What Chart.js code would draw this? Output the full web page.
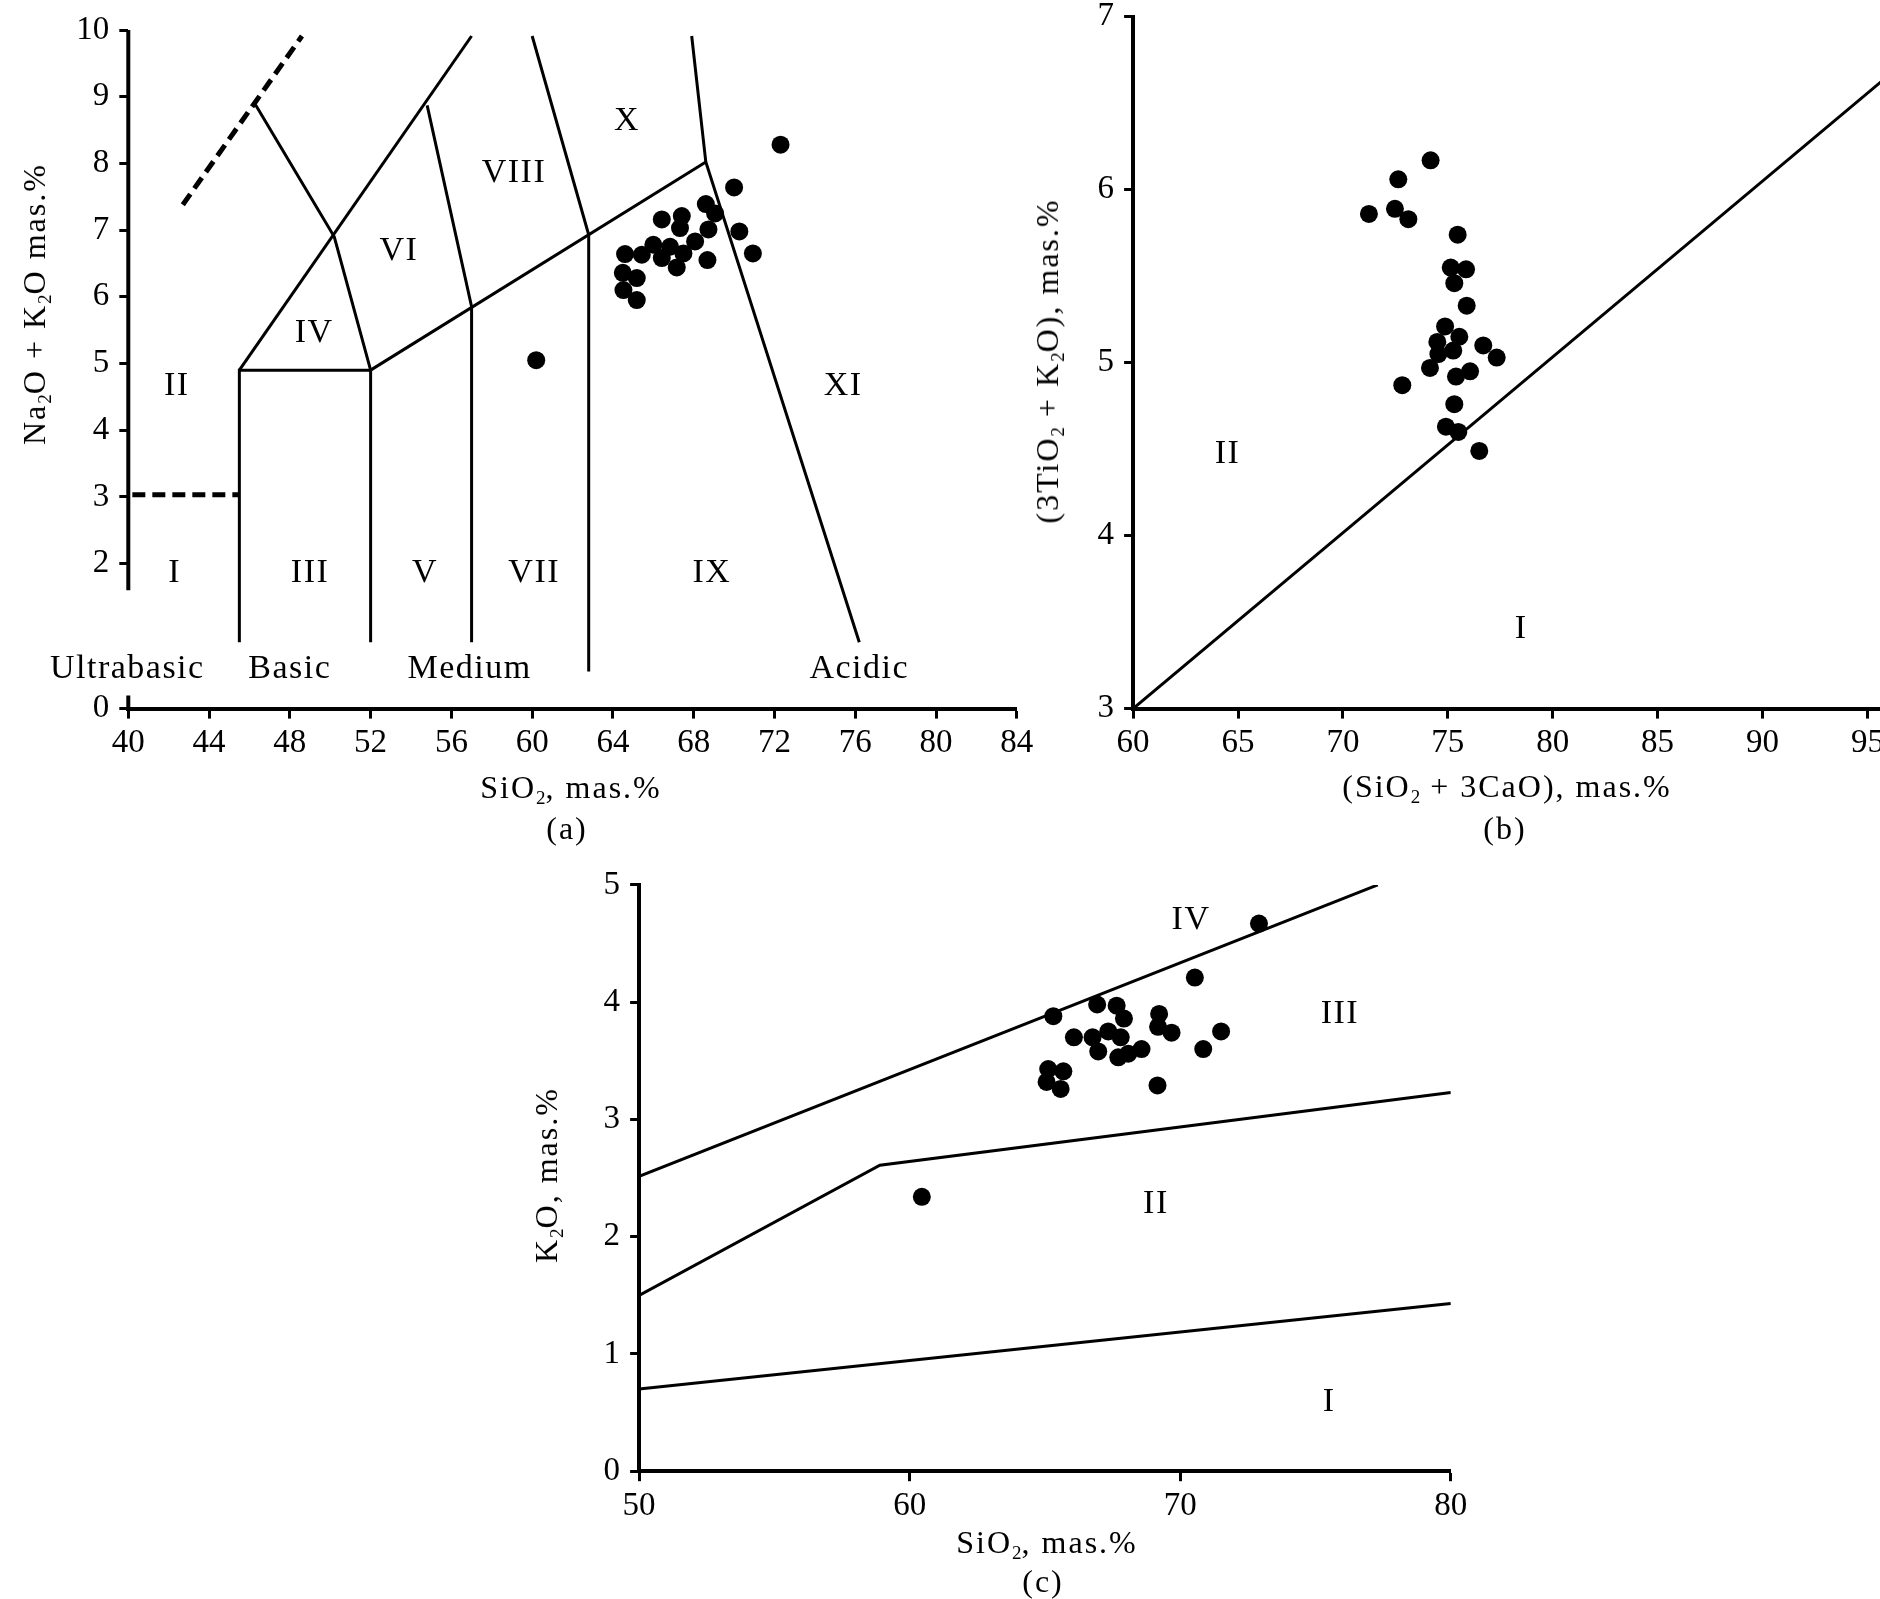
<!DOCTYPE html>
<html>
<head>
<meta charset="utf-8">
<script src="https://cdn.jsdelivr.net/npm/chart.js@4.4.1/dist/chart.umd.min.js"></script>
<style>
  body { margin: 0; width: 1880px; height: 1599px; overflow: hidden; background: #fff; position: relative;
         font-family: "Liberation Serif", "Times New Roman", serif; }
  canvas { position: absolute; }
  .lbl { position: absolute; font-size: 32px; letter-spacing: 2px; color: #000; white-space: nowrap;
         transform: translate(-50%, -50%); line-height: 1; }
  .lbl sub { font-size: 19px; vertical-align: -6px; line-height: 0; letter-spacing: 0; }
  .rot { transform: translate(-50%, -50%) rotate(-90deg); }
</style>
</head>
<body>
<canvas id="chartA" width="1060" height="800" style="left:0px;top:0px"></canvas>
<canvas id="chartB" width="1000" height="820" style="left:1000px;top:-20px"></canvas>
<canvas id="chartC" width="1000" height="740" style="left:500px;top:840px"></canvas>

<div class="lbl rot" style="left:34px;top:304px">Na<sub>2</sub>O + K<sub>2</sub>O mas.%</div>
<div class="lbl" style="left:571px;top:787px">SiO<sub>2</sub>, mas.%</div>
<div class="lbl" style="left:567px;top:828px">(a)</div>

<div class="lbl rot" style="left:1047px;top:361px">(3TiO<sub>2</sub> + K<sub>2</sub>O), mas.%</div>
<div class="lbl" style="left:1507px;top:786px">(SiO<sub>2</sub> + 3CaO), mas.%</div>
<div class="lbl" style="left:1505px;top:828px">(b)</div>

<div class="lbl rot" style="left:546px;top:1175px">K<sub>2</sub>O, mas.%</div>
<div class="lbl" style="left:1047px;top:1542px">SiO<sub>2</sub>, mas.%</div>
<div class="lbl" style="left:1043px;top:1581px">(c)</div>

<script>
// ---- chart (a): Na2O+K2O vs SiO2 ----
const aTicksX = [40, 44, 48, 52, 56, 60, 64, 68, 72, 76, 80, 84];
const aTicksY = [2, 3, 4, 5, 6, 7, 8, 9, 10];
const aZero = -0.175; // axis break: the "0" tick sits at the bottom of the axis

const aSamples = [
  [60.2, 5.05], [72.3, 8.28], [70.0, 7.64], [68.6, 7.39], [69.06, 7.25], [67.41, 7.21],
  [66.42, 7.16], [67.32, 7.03], [68.73, 7.01], [70.26, 6.98], [68.07, 6.83], [66.0, 6.78],
  [66.83, 6.75], [65.43, 6.63], [64.6, 6.64], [66.42, 6.58], [67.49, 6.65], [70.93, 6.65],
  [68.68, 6.55], [67.16, 6.44], [64.49, 6.36], [65.18, 6.28], [64.52, 6.10], [65.18, 5.95]
];

const aDashUpper = [[42.7, 7.38], [48.6, 9.91]];
const aDashLower = [[40.2, 3.03], [45.5, 3.03]];
const aLineII = [[46.3, 8.88], [50.2, 6.9], [52.0, 4.9]];
const aLineIV = [[45.5, 4.9], [57.0, 9.91]];
const aLineVI = [[54.8, 8.87], [57.0, 5.85], [57.0, 0.82]];
const aBasic = [[45.5, 0.82], [45.5, 4.9], [52.0, 4.9], [52.0, 0.82]];
const aLineX = [[52.0, 4.9], [68.6, 8.02]];
const aLineVIII = [[60.0, 9.91], [62.8, 6.93], [62.8, 0.38]];
const aLineXI = [[67.9, 9.91], [68.6, 8.02], [76.2, 0.82]];

const aRegionNames = ['I', 'II', 'III', 'IV', 'V', 'VI', 'VII', 'VIII', 'IX', 'X', 'XI',
                      'Ultrabasic', 'Basic', 'Medium', 'Acidic'];
const aRegionX = [42.3, 42.4, 49.0, 49.2, 54.7, 53.4, 60.1, 59.1, 68.9, 64.7, 75.4, 39.95, 48.0, 56.9, 76.2];
const aRegionY = [1.86, 4.66, 1.86, 5.45, 1.86, 6.68, 1.86, 7.85, 1.86, 8.64, 4.66, 0.42, 0.42, 0.42, 0.42];

// ---- chart (b): (3TiO2+K2O) vs (SiO2+3CaO) ----
const bTicksX = [60, 65, 70, 75, 80, 85, 90, 95];
const bTicksY = [3, 4, 5, 6, 7];
const bSamples = [
  [74.18, 6.17], [72.64, 6.06], [71.24, 5.86], [72.48, 5.89], [73.12, 5.83], [75.47, 5.74],
  [75.14, 5.55], [75.87, 5.54], [75.31, 5.46], [75.90, 5.33], [74.87, 5.21], [75.55, 5.15],
  [74.50, 5.12], [76.69, 5.10], [75.26, 5.07], [74.55, 5.05], [77.33, 5.03], [74.15, 4.97],
  [76.06, 4.95], [75.39, 4.92], [72.83, 4.87], [75.31, 4.76], [74.91, 4.63], [75.50, 4.60],
  [76.50, 4.49]
];
const bBoundary = [[60, 3.0], [96, 6.66]];
const bRegionNames = ['II', 'I'];
const bRegionX = [64.5, 78.5];
const bRegionY = [4.47, 3.46];

// ---- chart (c): K2O vs SiO2 ----
const cTicksX = [50, 60, 70, 80];
const cTicksY = [0, 1, 2, 3, 4, 5];
const cSamples = [
  [72.91, 4.67], [70.54, 4.21], [65.31, 3.88], [66.93, 3.98], [67.65, 3.97], [67.92, 3.86],
  [69.22, 3.90], [69.18, 3.79], [69.68, 3.74], [71.51, 3.75], [66.07, 3.70], [66.76, 3.70],
  [67.34, 3.75], [67.80, 3.70], [66.97, 3.58], [67.71, 3.53], [68.08, 3.56], [68.57, 3.60],
  [70.85, 3.60], [65.12, 3.43], [65.68, 3.41], [65.06, 3.32], [65.58, 3.26], [69.16, 3.29],
  [60.45, 2.34]
];
const cUpper = [[50, 2.515], [77.3, 5.0]];
const cMiddle = [[50, 1.5], [58.9, 2.61], [80, 3.23]];
const cLower = [[50, 0.7], [80, 1.43]];
const cRegionNames = ['IV', 'III', 'II', 'I'];
const cRegionX = [70.4, 75.9, 69.1, 75.5];
const cRegionY = [4.7, 3.9, 2.28, 0.59];

const FONT = 'Liberation Serif';
const toXY = pts => pts.map(p => ({ x: p[0], y: p[1] }));

function lineSet(pts, dashed) {
  return {
    type: 'scatter',
    data: toXY(pts),
    showLine: true,
    borderColor: '#000',
    borderWidth: dashed ? 5 : 3,
    borderDash: dashed ? [13, 7] : [],
    pointRadius: 0,
    fill: false,
    tension: 0
  };
}

function dotSet(pts) {
  return {
    type: 'scatter',
    data: toXY(pts),
    pointRadius: 9,
    pointStyle: 'circle',
    backgroundColor: '#000',
    borderWidth: 0
  };
}

function axis(tickVals, min, max, isY, opts = {}) {
  return {
    type: 'linear',
    min: min,
    max: max,
    afterBuildTicks: s => { s.ticks = tickVals.map(v => ({ value: v })); },
    afterFit: s => { if (isY) s.width = 100; else s.height = 60; },
    border: { display: opts.border !== false, color: '#000', width: 4 },
    grid: { drawOnChartArea: false, drawTicks: true, tickLength: isY ? 9 : 10, tickWidth: 3, color: '#000' },
    ticks: {
      color: '#000',
      font: { family: FONT, size: 33 },
      padding: isY ? 10 : 5,
      autoSkip: false,
      maxRotation: 0,
      callback: opts.label || (v => v)
    }
  };
}

// writes region names at data coordinates
function regionPlugin(names, xs, ys) {
  return {
    id: 'regions',
    afterDatasetsDraw(chart) {
      const { ctx, scales } = chart;
      ctx.save();
      ctx.fillStyle = '#000';
      ctx.font = '34px "' + FONT + '"';
      if ('letterSpacing' in ctx) ctx.letterSpacing = '1.5px';
      ctx.textAlign = 'center';
      ctx.textBaseline = 'middle';
      names.forEach((n, i) => {
        ctx.fillText(n, scales.x.getPixelForValue(xs[i]), scales.y.getPixelForValue(ys[i]));
      });
      ctx.restore();
    }
  };
}

// y axis of (a) is broken between about 1.6 and the bottom
const axisBreakPlugin = {
  id: 'axisBreak',
  afterDraw(chart) {
    const { ctx, scales } = chart;
    const x = scales.x.getPixelForValue(40);
    const bottom = scales.y.getPixelForValue(aZero);
    ctx.save();
    ctx.strokeStyle = '#000';
    ctx.lineWidth = 4;
    ctx.beginPath();
    ctx.moveTo(x, scales.y.getPixelForValue(10));
    ctx.lineTo(x, scales.y.getPixelForValue(1.6));
    ctx.moveTo(x, bottom - 13);
    ctx.lineTo(x, bottom);
    ctx.stroke();
    ctx.restore();
  }
};

function baseOptions(padding, xAxis, yAxis) {
  return {
    responsive: false,
    animation: false,
    devicePixelRatio: 1,
    layout: { padding: padding },
    plugins: { legend: { display: false }, tooltip: { enabled: false } },
    scales: { x: xAxis, y: yAxis }
  };
}

new Chart(document.getElementById('chartA'), {
  type: 'scatter',
  data: {
    datasets: [
      lineSet(aDashUpper, true), lineSet(aDashLower, true),
      lineSet(aLineII), lineSet(aLineIV), lineSet(aLineVI), lineSet(aBasic),
      lineSet(aLineX), lineSet(aLineVIII), lineSet(aLineXI),
      dotSet(aSamples)
    ]
  },
  options: baseOptions(
    { left: 28.3, right: 43.2, top: 30, bottom: 31.4 },
    axis(aTicksX, 40, 84, false),
    axis([aZero].concat(aTicksY), aZero, 10, true, { border: false, label: v => (v < 1 ? '0' : v) })
  ),
  plugins: [regionPlugin(aRegionNames, aRegionX, aRegionY), axisBreakPlugin]
});

new Chart(document.getElementById('chartB'), {
  type: 'scatter',
  data: { datasets: [lineSet(bBoundary), dotSet(bSamples)] },
  options: baseOptions(
    { left: 33.1, right: 111.6, top: 36.8, bottom: 31.4 },
    axis(bTicksX, 60, 96, false),
    axis(bTicksY, 3, 7, true)
  ),
  plugins: [regionPlugin(bRegionNames, bRegionX, bRegionY)]
});

new Chart(document.getElementById('chartC'), {
  type: 'scatter',
  data: { datasets: [lineSet(cUpper), lineSet(cMiddle), lineSet(cLower), dotSet(cSamples)] },
  options: baseOptions(
    { left: 39.1, right: 49.2, top: 44.9, bottom: 48.8 },
    axis(cTicksX, 50, 80, false),
    axis(cTicksY, 0, 5, true)
  ),
  plugins: [regionPlugin(cRegionNames, cRegionX, cRegionY)]
});
</script>
</body>
</html>
